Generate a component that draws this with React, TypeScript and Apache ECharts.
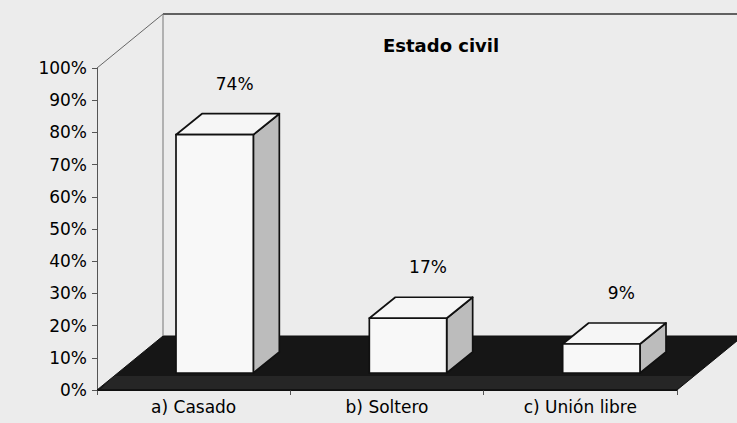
import React, { useEffect, useRef } from "react";
import * as echarts from "echarts";

const categories = ["a) Casado", "b) Soltero", "c) Unión libre"];
const values = [74, 17, 9];
const yTicks = [0, 10, 20, 30, 40, 50, 60, 70, 80, 90, 100];
const titleText = "Estado civil";

const FONT = "DejaVu Sans";

export default function App() {
  const ref = useRef<HTMLDivElement>(null);
  useEffect(() => {
    if (!ref.current) return;
    const chart = echarts.init(ref.current, undefined, { renderer: "svg" });
    const DX = 66;
    const DY = -54;
    const FX = 21, FY = -17; // bar front plane offset
    const BX = 26, BY = -21; // bar depth
    const option: any = {
      animation: false,
      backgroundColor: "#ececec",
      title: {
        text: titleText,
        left: 378,
        top: 31,
        textStyle: { fontFamily: FONT, fontSize: 18, fontWeight: "bold", color: "#000" },
      },
      grid: { left: 97, top: 68, width: 580, height: 322 },
      xAxis: {
        type: "category",
        data: categories,
        axisLine: { show: true, lineStyle: { color: "#111", width: 1 } },
        axisTick: { show: true, length: 5, lineStyle: { color: "#555" } },
        axisLabel: { fontFamily: FONT, fontSize: 17, color: "#000", margin: 8 },
        splitLine: { show: false },
      },
      yAxis: {
        type: "value",
        min: yTicks[0],
        max: yTicks[yTicks.length - 1],
        interval: yTicks[1] - yTicks[0],
        axisLine: { show: true, lineStyle: { color: "#555", width: 1 } },
        axisTick: { show: true, length: 5, lineStyle: { color: "#555" } },
        axisLabel: {
          fontFamily: FONT,
          fontSize: 17,
          color: "#000",
          margin: 10,
          formatter: (v: number) => `${v}%`,
        },
        splitLine: { show: false },
      },
      series: [
        {
          type: "custom",
          z: 1,
          clip: false,
          silent: true,
          data: [0],
          renderItem: (params: any, api: any) => {
            const cs = params.coordSys;
            const x0 = cs.x, x1 = cs.x + cs.width;
            const yb = cs.y + cs.height, yt = cs.y;
            const sx = 17, sy = -14;
            return {
              type: "group",
              children: [
                {
                  type: "polygon",
                  shape: { points: [[x0, yb], [x1, yb], [x1 + DX, yb + DY], [x0 + DX, yb + DY]] },
                  style: { fill: "#161616", stroke: "#111", lineWidth: 1 },
                },
                {
                  type: "polygon",
                  shape: { points: [[x0 + 4, yb - 1], [x1, yb - 1], [x1 + sx, yb + sy], [x0 + sx, yb + sy]] },
                  style: { fill: "#262626" },
                },
                {
                  type: "line",
                  shape: { x1: x0, y1: yt, x2: x0 + DX, y2: yt + DY },
                  style: { stroke: "#666", lineWidth: 1 },
                },
                {
                  type: "line",
                  shape: { x1: x0 + DX, y1: yt + DY, x2: x1 + DX, y2: yt + DY },
                  style: { stroke: "#333", lineWidth: 1.5 },
                },
                {
                  type: "line",
                  shape: { x1: x0 + DX, y1: yt + DY, x2: x0 + DX, y2: yb + DY },
                  style: { stroke: "#777", lineWidth: 1 },
                },
              ],
            };
          },
        },
        {
          type: "custom",
          z: 3,
          clip: false,
          data: values.map((v, i) => [i, v]),
          renderItem: (params: any, api: any) => {
            const idx = api.value(0);
            const val = api.value(1);
            const base = api.coord([idx, 0]);
            const top = api.coord([idx, val]);
            const bw = api.size([1, 0])[0] * 0.4;
            const fl = base[0] - bw / 2 + FX;
            const fr = base[0] + bw / 2 + FX;
            const ft = top[1] + FY;
            const fb = base[1] + FY;
            const stroke = "#111";
            const lw = 1.7;
            return {
              type: "group",
              children: [
                {
                  type: "polygon",
                  shape: { points: [[fr, ft], [fr + BX, ft + BY], [fr + BX, fb + BY], [fr, fb]] },
                  style: { fill: "#bcbcbc", stroke, lineWidth: lw, lineJoin: "round" },
                },
                {
                  type: "polygon",
                  shape: { points: [[fl, ft], [fr, ft], [fr + BX, ft + BY], [fl + BX, ft + BY]] },
                  style: { fill: "#f6f6f6", stroke, lineWidth: lw, lineJoin: "round" },
                },
                {
                  type: "rect",
                  shape: { x: fl, y: ft, width: fr - fl, height: fb - ft },
                  style: { fill: "#f8f8f8", stroke, lineWidth: lw },
                },
                {
                  type: "text",
                  x: (fl + fr) / 2 + BX - 6,
                  y: ft + BY - 30,
                  style: {
                    text: `${val}%`,
                    fontFamily: FONT,
                    fontSize: 17,
                    fill: "#000",
                    align: "center",
                    verticalAlign: "middle",
                  },
                },
              ],
            };
          },
        },
      ],
    };
    chart.setOption(option);
    return () => chart.dispose();
  }, []);
  return (
    <div
      ref={ref}
      style={{ position: "fixed", left: 0, top: 0, width: 737, height: 423 }}
    />
  );
}
